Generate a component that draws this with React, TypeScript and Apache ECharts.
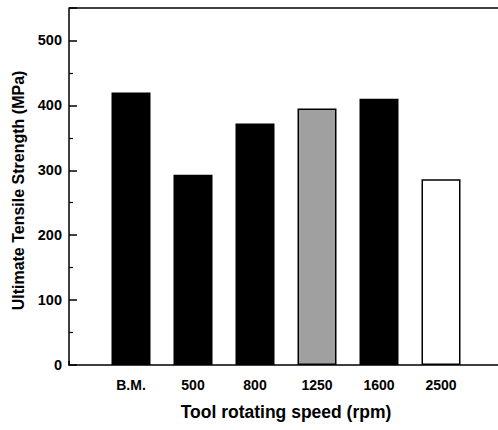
import React, { useEffect, useRef } from "react";
import * as echarts from "echarts";

const categories = ["", "B.M.", "500", "800", "1250", "1600", "2500", "", ""];
const strengthValues = [null, 420, 293, 372, 395, 410, 286, null, null];
const yTicks = [0, 100, 200, 300, 400, 500];
const yMax = 550;

const barFills = ["#000", "#000", "#000", "#000", "#a0a0a0", "#000", "#fff", "#000", "#000"];

export default function App() {
  const ref = useRef<HTMLDivElement>(null);
  useEffect(() => {
    document.body.style.margin = "0";
    document.body.style.overflow = "hidden";
    document.documentElement.style.overflow = "hidden";
    if (!ref.current) return;
    const chart = echarts.init(ref.current, null, { renderer: "svg" });
    const font = "'Liberation Sans', Arial, sans-serif";
    chart.setOption({
      animation: false,
      backgroundColor: "#fff",
      grid: {
        left: 69,
        top: 8,
        width: 496,
        height: 357,
        show: false,
        containLabel: false,
        outerBoundsMode: "none",
      },
      xAxis: {
        type: "category",
        data: categories,
        boundaryGap: false,
        name: "Tool rotating speed (rpm)",
        nameLocation: "middle",
        nameGap: 38,
        nameTextStyle: {
          fontFamily: font,
          fontWeight: "bold",
          fontSize: 17.5,
          color: "#000",
          padding: [0, 62, 0, 0],
        },
        axisLine: { lineStyle: { color: "#000", width: 1.5 } },
        axisTick: { inside: true, length: 4, lineStyle: { color: "#000", width: 1.5 } },
        axisLabel: {
          margin: 13,
          fontFamily: font,
          fontWeight: "bold",
          fontSize: 14,
          color: "#000",
          interval: 0,
        },
        splitLine: { show: false },
      },
      yAxis: {
        type: "value",
        min: yTicks[0],
        max: yMax,
        interval: 100,
        name: "Ultimate Tensile Strength (MPa)",
        nameLocation: "middle",
        nameGap: 42,
        nameTextStyle: {
          fontFamily: font,
          fontWeight: "bold",
          fontSize: 16,
          color: "#000",
          padding: [0, 8, 0, 0],
        },
        axisLine: { show: true, lineStyle: { color: "#000", width: 1.5 } },
        axisTick: { show: true, inside: true, length: 8, lineStyle: { color: "#000", width: 1.5 } },
        minorTick: { show: true, splitNumber: 2, length: 4, lineStyle: { color: "#000", width: 1.2 } },
        axisLabel: {
          margin: 7,
          fontFamily: font,
          fontWeight: "bold",
          fontSize: 14.5,
          color: "#000",
          showMaxLabel: false,
          formatter: (v: number) => (yTicks.includes(v) ? String(v) : ""),
        },
        splitLine: { show: false },
      },
      series: [
        {
          type: "bar",
          barWidth: 39,
          data: strengthValues.map((v, i) => ({
            value: v,
            itemStyle: {
              color: barFills[i],
              borderColor: "#000",
              borderWidth: 1.5,
            },
          })),
          markLine: {
            silent: true,
            symbol: "none",
            label: { show: false },
            lineStyle: { color: "#000", width: 1.5, type: "solid" },
            data: [{ yAxis: yMax }],
          },
        },
      ],
    });
    return () => chart.dispose();
  }, []);
  return <div ref={ref} style={{ width: 580, height: 430 }} />;
}
